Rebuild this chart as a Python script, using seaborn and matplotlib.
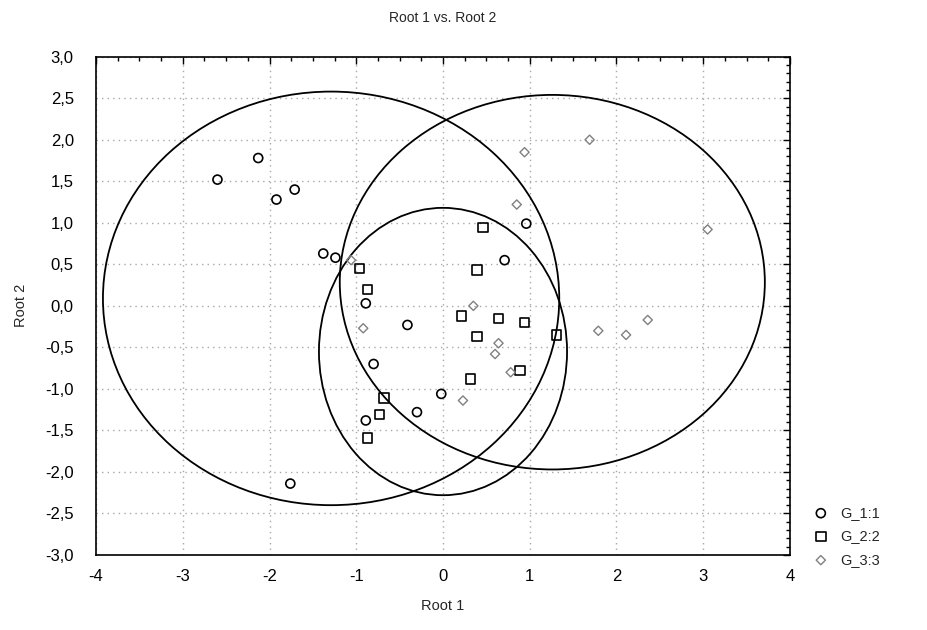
import numpy as np
import pandas as pd
import matplotlib
matplotlib.use("Agg")
import matplotlib.pyplot as plt
from matplotlib.patches import Ellipse
from matplotlib.ticker import MultipleLocator, FuncFormatter
import seaborn as sns

# ---- data ----
g1_x = [-2.60, -2.13, -1.92, -1.71, -1.38, -1.24, -0.89, -0.41, -0.80, -0.89, -0.30, -0.02, -1.76, 0.71, 0.96]
g1_y = [1.52, 1.78, 1.28, 1.40, 0.63, 0.58, 0.03, -0.23, -0.70, -1.38, -1.28, -1.06, -2.14, 0.55, 0.99]

g2_x = [-0.96, -0.87, 0.21, 0.39, 0.46, 0.64, 0.94, 1.31, 0.39, 0.89, 0.32, -0.68, -0.73, -0.87]
g2_y = [0.45, 0.20, -0.12, 0.43, 0.94, -0.15, -0.20, -0.35, -0.37, -0.78, -0.88, -1.11, -1.31, -1.59]

g3_x = [-1.06, -0.92, 0.35, 0.64, 0.60, 0.78, 0.23, 0.85, 0.94, 1.69, 3.05, 2.36, 1.79, 2.11]
g3_y = [0.55, -0.27, 0.00, -0.45, -0.58, -0.80, -1.14, 1.22, 1.85, 2.00, 0.92, -0.17, -0.30, -0.35]

groups = ["G_1:1", "G_2:2", "G_3:3"]

# ellipses (center x, center y, half-width, half-height)
ell_cx = [-1.29, 1.26, 0.00]
ell_cy = [0.09, 0.285, -0.55]
ell_rx = [2.63, 2.45, 1.43]
ell_ry = [2.49, 2.255, 1.73]

df = pd.DataFrame({
    "Root 1": g1_x + g2_x + g3_x,
    "Root 2": g1_y + g2_y + g3_y,
    "Group": [groups[0]] * len(g1_x) + [groups[1]] * len(g2_x) + [groups[2]] * len(g3_x),
})

sns.set_style("white")
plt.rcParams["font.family"] = ["Liberation Sans", "DejaVu Sans"]

fig = plt.figure(figsize=(9.28, 6.30), dpi=100)
ax = fig.add_axes([96 / 928, 1 - 555 / 630, (790 - 96) / 928, (555 - 56.7) / 630])

styles = {
    "G_1:1": dict(marker="o", edgecolor="#000000", s=42, linewidth=1.2),
    "G_2:2": dict(marker="s", edgecolor="#000000", s=46, linewidth=1.2),
    "G_3:3": dict(marker="D", edgecolor="#808080", s=22, linewidth=1.0),
}
for g in groups:
    sub = df[df["Group"] == g]
    st = styles[g]
    sns.scatterplot(data=sub, x="Root 1", y="Root 2", ax=ax, marker=st["marker"],
                    s=st["s"], facecolor="none", edgecolor=st["edgecolor"],
                    linewidth=st["linewidth"], label=g, zorder=3)

for cx, cy, rx, ry in zip(ell_cx, ell_cy, ell_rx, ell_ry):
    ax.add_patch(Ellipse((cx, cy), 2 * rx, 2 * ry, fill=False, edgecolor="black", linewidth=1.3, zorder=2))

ax.set_xlim(-4, 4)
ax.set_ylim(-3, 3)
ax.xaxis.set_major_locator(MultipleLocator(1))
ax.xaxis.set_minor_locator(MultipleLocator(0.25))
ax.yaxis.set_major_locator(MultipleLocator(0.5))
ax.yaxis.set_minor_locator(MultipleLocator(0.1))
ax.xaxis.set_major_formatter(FuncFormatter(lambda v, p: "%d" % round(v)))
ax.yaxis.set_major_formatter(FuncFormatter(lambda v, p: ("%.1f" % v).replace(".", ",") if abs(v) > 1e-9 else "0,0"))

ax.tick_params(which="both", direction="in", top=True, right=True, labelsize=12, colors="black")
ax.tick_params(which="major", length=5, width=1)
ax.tick_params(which="minor", length=3, width=1)
ax.tick_params(axis="x", which="major", pad=10)
ax.tick_params(axis="y", which="major", pad=16)
ax.grid(True, which="major", linestyle=(0, (1, 3)), color="#a8a8a8", linewidth=1)
for sp in ax.spines.values():
    sp.set_visible(True)
    sp.set_color("black")
    sp.set_linewidth(1.2)

ax.set_xlabel("Root 1", fontsize=10.5, labelpad=11)
ax.set_ylabel("Root 2", fontsize=10.5, labelpad=12)
ax.set_title("Root 1 vs. Root 2", fontsize=10, pad=25)

ax.legend(loc="upper left", bbox_to_anchor=(1.015, 0.11), frameon=False, fontsize=10.5,
          handletextpad=0.3, labelspacing=0.65, borderaxespad=0)

fig.savefig("out.png", dpi=100)
